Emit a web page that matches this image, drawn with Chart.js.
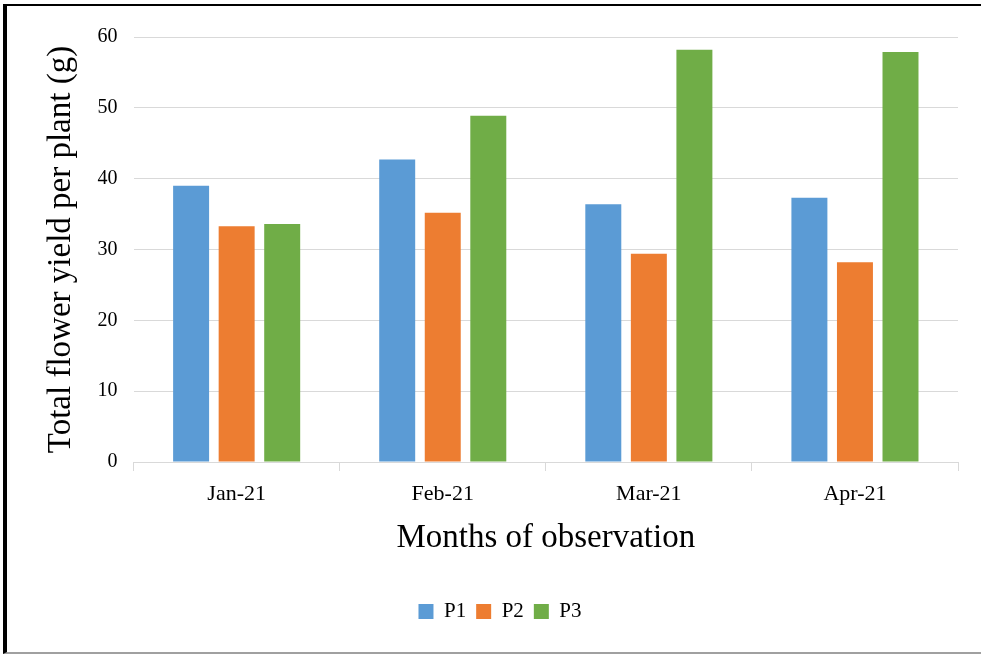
<!DOCTYPE html>
<html lang="en">
<head>
    <meta charset="UTF-8">
    <title>Total flower yield per plant</title>
    <script src="https://cdn.jsdelivr.net/npm/chart.js@4.4.0/dist/chart.umd.min.js"></script>
    <style>
        html, body { margin: 0; padding: 0; background: #fff; }
        .frame {
            position: absolute;
            left: 3px; top: 4px;
            width: 974px; height: 646px;
            border-top: 2px solid #000;
            border-left: 4px solid #000;
            border-bottom: 2px solid #a0a0a0;
        }
        canvas { display: block; }
    </style>
</head>
<body>
    <div class="frame">
        <canvas id="yieldChart" width="974" height="646"></canvas>
    </div>

    <script>
        // data
        var months = ['Jan-21', 'Feb-21', 'Mar-21', 'Apr-21'];
        var p1 = [39.0, 42.7, 36.4, 37.3];
        var p2 = [33.3, 35.2, 29.4, 28.2];
        var p3 = [33.6, 48.9, 58.2, 57.9];

        var serif = "'Liberation Serif', 'Times New Roman', serif";

        var ctx = document.getElementById('yieldChart').getContext('2d');
        var chart = new Chart(ctx, {
            type: 'bar',
            data: {
                labels: months,
                datasets: [
                    { label: 'P1', data: p1, backgroundColor: '#5b9bd5' },
                    { label: 'P2', data: p2, backgroundColor: '#ed7d31' },
                    { label: 'P3', data: p3, backgroundColor: '#70ad47' }
                ]
            },
            options: {
                responsive: false,
                animation: false,
                categoryPercentage: 0.663,
                barPercentage: 0.79,
                layout: {
                    padding: { left: 35, right: 23, top: 31, bottom: 20 }
                },
                plugins: {
                    tooltip: { enabled: false },
                    legend: {
                        position: 'bottom',
                        labels: {
                            color: '#000',
                            font: { family: serif, size: 21 },
                            boxWidth: 15,
                            boxHeight: 15,
                            padding: 10
                        }
                    }
                },
                scales: {
                    x: {
                        grid: {
                            offset: true,
                            drawOnChartArea: false,
                            drawTicks: true,
                            tickLength: 9,
                            color: '#d9d9d9'
                        },
                        border: { color: '#d9d9d9' },
                        ticks: {
                            color: '#000',
                            font: { family: serif, size: 22 },
                            padding: 10
                        },
                        title: {
                            display: true,
                            text: 'Months of observation',
                            color: '#000',
                            font: { family: serif, size: 33 },
                            padding: { top: 1, bottom: 33 }
                        }
                    },
                    y: {
                        min: 0,
                        max: 60,
                        ticks: {
                            stepSize: 10,
                            color: '#000',
                            font: { family: serif, size: 20 },
                            padding: 16
                        },
                        grid: {
                            color: '#d9d9d9',
                            drawTicks: false
                        },
                        border: { display: false },
                        title: {
                            display: true,
                            text: 'Total flower yield per plant (g)',
                            color: '#000',
                            font: { family: serif, size: 33 },
                            padding: { top: 0, bottom: 0 }
                        }
                    }
                }
            }
        });
    </script>
</body>
</html>
